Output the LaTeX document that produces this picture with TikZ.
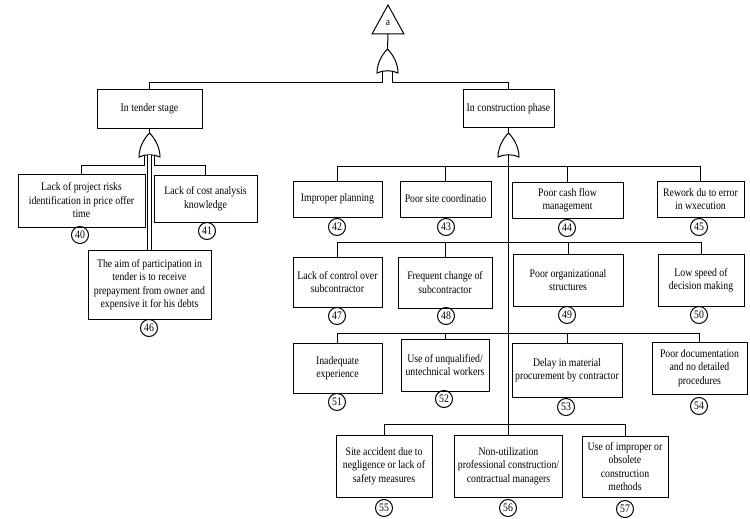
\documentclass[tikz,border=0pt]{standalone}
\usepackage{fontspec}
\setmainfont{Liberation Serif}[FakeStretch=0.85]
\newcommand\fsz{\fontsize{11.5}{13.5}\selectfont}
\begin{document}
\begin{tikzpicture}[x=1pt,y=-1pt,line width=1pt,
  box/.style={draw,align=center,inner sep=0pt,font=\fsz},
  circ/.style={draw,circle,minimum size=17pt,inner sep=0pt,font=\fsz},
  orgate/.pic={
    \draw (-10.5,0) .. controls (-10.5,-9) and (-6,-18) .. (0,-24)
          .. controls (6,-18) and (10.5,-9) .. (10.5,0)
          .. controls (4,-3) and (-4,-3) .. cycle;
    \coordinate (-apex) at (0,-24);
    \coordinate (-base) at (0,-2.2);
    \coordinate (-ll) at (-5,-1.8);
    \coordinate (-rl) at (5,-1.8);
  }]
\useasboundingbox (0,0) rectangle (750,519);

% top event
\draw (388,5) -- (372,34) -- (404,34) -- cycle;
\node[font=\fontsize{11}{12}\selectfont,inner sep=0pt] (alabel) at (388,23) {a};
\coordinate (tri) at (388,34);

% gates
\pic (g1) at (387.5,73) {orgate};
\pic (g2) at (149.5,157) {orgate};
\pic (g3) at (508.5,157) {orgate};

% intermediate events
\node[box,minimum width=105pt,minimum height=38pt] (T) at (149.5,109) {In tender stage};
\node[box,minimum width=91pt,minimum height=37pt] (C) at (508.5,108.5) {In construction phase};

% tender basic events
\node[box,minimum width=127pt,minimum height=53pt] (b40) at (81.5,200.5) {Lack of project risks\\identification in price offer\\time};
\node[box,minimum width=103pt,minimum height=47pt] (b41) at (205.5,198.5) {Lack of cost analysis\\knowledge};
\node[box,minimum width=123pt,minimum height=69pt] (b46) at (149.5,284.5) {The aim of participation in\\tender is to receive\\prepayment from owner and\\expensive it for his debts};
\node[circ] (n40) at (80,235) {40};
\node[circ] (n41) at (207,231) {41};
\node[circ] (n46) at (149,328) {46};

% construction row 1
\node[box,minimum width=89pt,minimum height=36pt] (b42) at (337.5,199) {Improper planning};
\node[box,minimum width=91pt,minimum height=36pt] (b43) at (445.5,199) {Poor site coordinatio};
\node[box,minimum width=111pt,minimum height=36pt] (b44) at (567.5,200) {Poor cash flow\\management};
\node[box,minimum width=87pt,minimum height=36pt] (b45) at (700.5,199) {Rework du to error\\in wxecution};
\node[circ] (n42) at (337,227) {42};
\node[circ] (n43) at (446,227) {43};
\node[circ] (n44) at (567,228) {44};
\node[circ] (n45) at (699,227) {45};

% row 2
\node[box,minimum width=89pt,minimum height=50pt] (b47) at (337.5,282) {Lack of control over\\subcontractor};
\node[box,minimum width=94pt,minimum height=51pt] (b48) at (445,282.5) {Frequent change of\\subcontractor};
\node[box,minimum width=110pt,minimum height=52pt] (b49) at (568,280) {Poor organizational\\structures};
\node[box,minimum width=86pt,minimum height=52pt] (b50) at (701,280) {Low speed of\\decision making};
\node[circ] (n47) at (337,316) {47};
\node[circ] (n48) at (446,316) {48};
\node[circ] (n49) at (567,315) {49};
\node[circ] (n50) at (699,315) {50};

% row 3
\node[box,minimum width=89pt,minimum height=50pt] (b51) at (337.5,368) {Inadequate\\experience};
\node[box,minimum width=88pt,minimum height=52pt] (b52) at (445,365) {Use of unqualified/\\untechnical workers};
\node[box,minimum width=110pt,minimum height=54pt] (b53) at (567,370) {Delay in material\\procurement by contractor};
\node[box,minimum width=95pt,minimum height=52pt] (b54) at (699.5,368) {Poor documentation\\and no detailed\\procedures};
\node[circ] (n51) at (337,402) {51};
\node[circ] (n52) at (444,399) {52};
\node[circ] (n53) at (566,407) {53};
\node[circ] (n54) at (699,406) {54};

% row 4
\node[box,minimum width=96pt,minimum height=62pt] (b55) at (384,466) {Site accident due to\\negligence or lack of\\safety measures};
\node[box,minimum width=108pt,minimum height=62pt] (b56) at (508.5,466) {Non-utilization\\professional construction/\\contractual managers};
\node[box,minimum width=86pt,minimum height=61pt] (b57) at (625,466.5) {Use of improper or\\obsolete\\construction\\methods};
\node[circ] (n55) at (384,508) {55};
\node[circ] (n56) at (508,508) {56};
\node[circ] (n57) at (625,509) {57};

% row bars
\coordinate (r1) at (508.5,166);
\coordinate (r2) at (508.5,242);
\coordinate (r3) at (508.5,333);
\coordinate (r4) at (508.5,424);

% connectors
\draw (tri) -- (g1-apex);
\draw (g1-ll) -- ++(0,11.8) -| (T.north);
\draw (g1-rl) -- ++(0,11.8) -| (C.north);
\draw (T.south) -- (g2-apex);
\draw (C.south) -- (g3-apex);
\draw (g2-ll) -- ++(0,9.8) -| (b40.north);
\draw (g2-rl) -- ++(0,9.8) -| (b41.north);
\draw[double,double distance=3pt,line width=0.9pt] (g2-base) -- (b46.north);
\draw (g3-base) -- (b56.north);

\draw (b42.north) -- (b42.north |- r1) -- (b45.north |- r1) -- (b45.north);
\draw (b43.north) -- (b43.north |- r1);
\draw (b44.north) -- (b44.north |- r1);

\draw (b47.north) -- (b47.north |- r2) -- (b50.north |- r2) -- (b50.north);
\draw (b48.north) -- (b48.north |- r2);
\draw (b49.north) -- (b49.north |- r2);

\draw (b51.north) -- (b51.north |- r3) -- (b54.north |- r3) -- (b54.north);
\draw (b52.north) -- (b52.north |- r3);
\draw (b53.north) -- (b53.north |- r3);

\draw (b55.north) -- (b55.north |- r4) -- (b57.north |- r4) -- (b57.north);
\end{tikzpicture}
\end{document}
